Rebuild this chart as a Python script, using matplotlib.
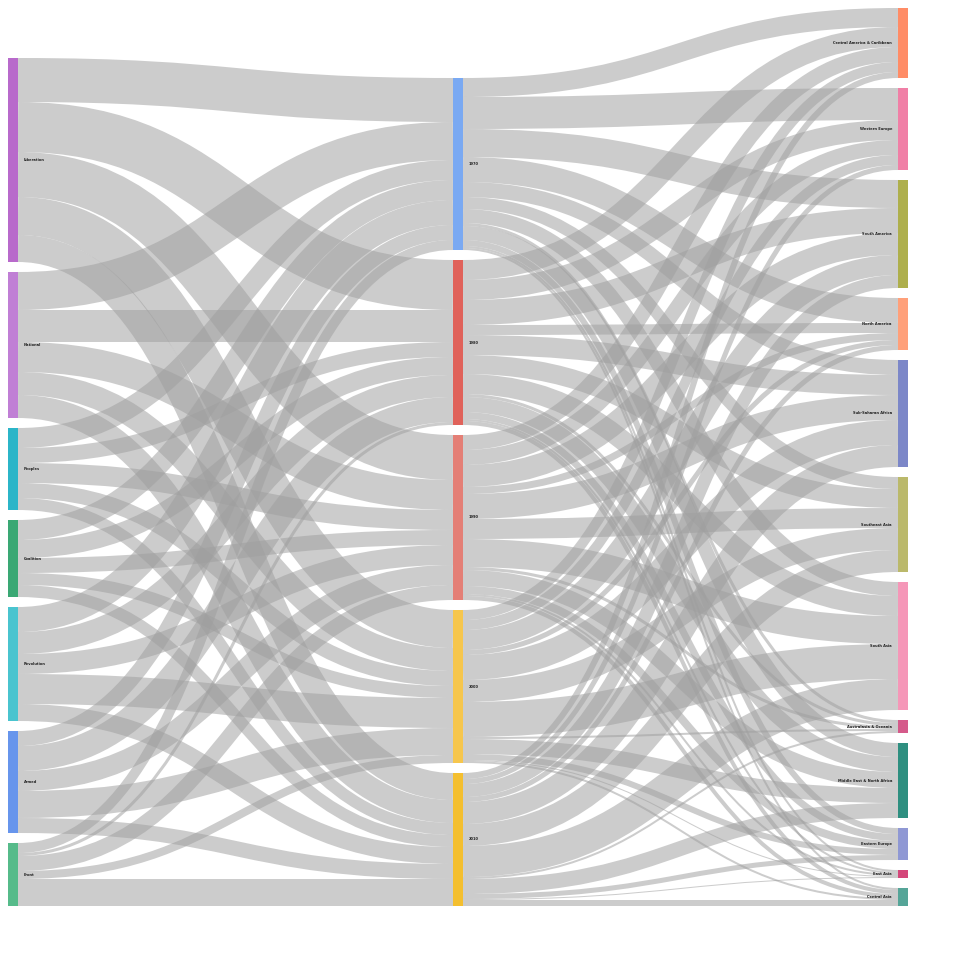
import numpy as np
import matplotlib
matplotlib.use("Agg")
import matplotlib.pyplot as plt
from matplotlib.path import Path
from matplotlib.patches import PathPatch, Rectangle

# nodes per column (top to bottom)
groups = ["Liberation", "National", "Peoples", "Coalition", "Revolution", "Armed", "Front"]
decades = ["1970", "1980", "1990", "2000", "2010"]
regions = ["Central America & Caribbean", "Western Europe", "South America", "North America",
           "Sub-Saharan Africa", "Southeast Asia", "South Asia", "Australasia & Oceania",
           "Middle East & North Africa", "Eastern Europe", "East Asia", "Central Asia"]

group_colors = ["#b86acb", "#c07fd5", "#2bb5c8", "#3aa874", "#4ac4cf", "#6795ec", "#56bb8a"]
decade_colors = ["#7aa9f2", "#e0625a", "#e47f76", "#f6c64d", "#f4bf2f"]
region_colors = ["#ff8c66", "#f07fa6", "#aeaf4c", "#ffa07a", "#7c87c8", "#bbb96b",
                 "#f597b8", "#d55a8a", "#2e8f80", "#8f98d4", "#d4477a", "#55a598"]

# group -> decade (rows: groups, cols: decades)
group_decade = [
    [44, 50, 45, 38, 27],
    [38, 32, 30, 23, 23],
    [20, 15, 20, 15, 12],
    [20, 18, 15, 12, 12],
    [25, 22, 20, 30, 17],
    [15, 25, 20, 27, 15],
    [10, 3, 15, 8, 27],
]

# decade -> region (rows: decades, cols: regions)
decade_region = [
    [19, 32, 28, 25, 15, 12, 14, 3, 14, 6, 2, 2],
    [20, 20, 25, 10, 20, 19, 20, 3, 15, 7, 2, 4],
    [15, 15, 22, 7, 25, 20, 28, 3, 16, 8, 2, 4],
    [10, 10, 20, 5, 25, 22, 35, 2, 15, 6, 1, 2],
    [6, 5, 13, 5, 22, 22, 31, 2, 15, 5, 1, 6],
]

W, H = 960, 960
y_top, y_bot = 8, 906
gap = 10
node_w = 10
col_x = [8, 453, 898]

columns = [
    (groups, group_colors, np.array(group_decade).sum(axis=1)),
    (decades, decade_colors, np.array(group_decade).sum(axis=0)),
    (regions, region_colors, np.array(decade_region).sum(axis=0)),
]

# scale: the tightest column fills the full extent
ky = min((y_bot - y_top - (len(n) - 1) * gap) / v.sum() for n, c, v in columns)

# node positions, stacked up from the bottom
pos = []
for names, cols, vals in columns:
    y1s = []
    y = y_bot
    for v in vals[::-1]:
        y1s.append((y - v * ky, y))
        y = y - v * ky - gap
    pos.append(y1s[::-1])

fig = plt.figure(figsize=(9.6, 9.6), dpi=100)
ax = fig.add_axes([0, 0, 1, 1])
ax.set_xlim(0, W)
ax.set_ylim(H, 0)
ax.axis("off")

px_to_pt = 72 / fig.dpi


def draw_links(matrix, ci):
    m = np.array(matrix)
    src_pos, tgt_pos = pos[ci], pos[ci + 1]
    x0 = col_x[ci] + node_w
    x1 = col_x[ci + 1]
    xm = (x0 + x1) / 2
    # offsets: outgoing sorted by target order, incoming sorted by source order
    src_off = [p[0] for p in src_pos]
    tgt_off = [p[0] for p in tgt_pos]
    links = []
    for i in range(m.shape[0]):
        for j in range(m.shape[1]):
            v = m[i, j]
            if v <= 0:
                continue
            w = v * ky
            ys = src_off[i] + w / 2
            src_off[i] += w
            links.append([i, j, w, ys])
    for j in range(m.shape[1]):
        for lk in links:
            if lk[1] == j:
                lk.append(tgt_off[j] + lk[2] / 2)
                tgt_off[j] += lk[2]
    for i, j, w, ys, yt in links:
        path = Path([(x0, ys), (xm, ys), (xm, yt), (x1, yt)],
                    [Path.MOVETO, Path.CURVE4, Path.CURVE4, Path.CURVE4])
        patch = PathPatch(path, facecolor="none", edgecolor="#9f9f9f", alpha=0.53,
                          linewidth=w * px_to_pt, capstyle="butt", zorder=1)
        ax.add_patch(patch)


draw_links(group_decade, 0)
draw_links(decade_region, 1)

for ci, (names, cols, vals) in enumerate(columns):
    for k, name in enumerate(names):
        ya, yb = pos[ci][k]
        ax.add_patch(Rectangle((col_x[ci], ya), node_w, yb - ya, facecolor=cols[k],
                               edgecolor="none", zorder=2))
        yc = (ya + yb) / 2
        if ci < 2:
            ax.text(col_x[ci] + node_w + 6, yc, name, ha="left", va="center",
                    fontsize=2.6, fontweight="bold", color="#222222", zorder=3)
        else:
            ax.text(col_x[ci] - 6, yc, name, ha="right", va="center",
                    fontsize=2.6, fontweight="bold", color="#222222", zorder=3)

fig.savefig("out.png", dpi=100, facecolor="white")
